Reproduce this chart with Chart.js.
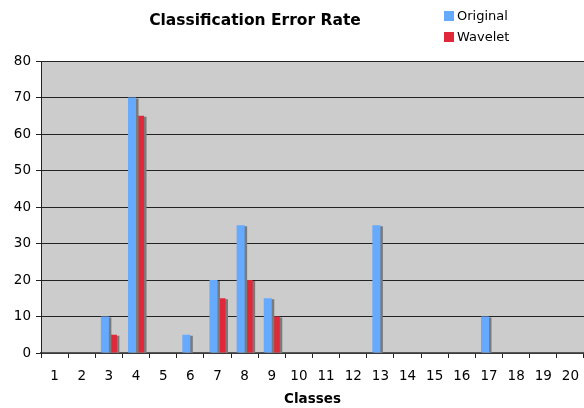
<!DOCTYPE html>
<html>
<head>
<meta charset="utf-8">
<script src="https://cdn.jsdelivr.net/npm/chart.js@4"></script>
<style>
  html, body { margin: 0; padding: 0; background: #ffffff; }
  #wrap { width: 584px; height: 408px; }
</style>
</head>
<body>
<div id="wrap"><canvas id="errChart" width="584" height="408"></canvas></div>
<script>
const classes = ["1", "2", "3", "4", "5", "6", "7", "8", "9", "10",
                 "11", "12", "13", "14", "15", "16", "17", "18", "19", "20"];
const originalRate = [0, 0, 10, 70, 0, 5, 20, 35, 15, 0, 0, 0, 35, 0, 0, 0, 10, 0, 0, 0];
const waveletRate = [0, 0, 5, 65, 0, 0, 15, 20, 10, 0, 0, 0, 0, 0, 0, 0, 0, 0, 0, 0];
const yTicks = [0, 10, 20, 30, 40, 50, 60, 70, 80];

const FONT = "'DejaVu Sans', Verdana, sans-serif";

// grey plot background + bar drop shadow
const plotDecor = {
  id: "plotDecor",
  beforeDraw(chart) {
    const { ctx, chartArea: a } = chart;
    ctx.save();
    ctx.fillStyle = "#cccccc";
    ctx.fillRect(a.left, a.top, a.right - a.left, a.bottom - a.top);
    ctx.restore();
  },
  beforeDatasetsDraw(chart) {
    const ctx = chart.ctx;
    ctx.save();
    ctx.shadowColor = "#7a7a7a";
    ctx.shadowOffsetX = 2.5;
    ctx.shadowOffsetY = 1;
    ctx.shadowBlur = 0;
  },
  afterDatasetsDraw(chart) {
    chart.ctx.restore();
  }
};

// title and legend placed like the original sheet chart
const headerBox = {
  id: "headerBox",
  afterDraw(chart) {
    const ctx = chart.ctx;
    ctx.save();
    ctx.fillStyle = "#000000";
    ctx.font = "bold 15.5px " + FONT;
    ctx.textAlign = "center";
    ctx.textBaseline = "middle";
    ctx.fillText("Classification Error Rate", 255, 21);

    ctx.font = "13px " + FONT;
    ctx.textAlign = "left";
    chart.data.datasets.forEach((ds, i) => {
      const y = 16 + i * 21;
      ctx.fillStyle = ds.backgroundColor;
      ctx.fillRect(444, y - 5, 10, 10);
      ctx.fillStyle = "#000000";
      ctx.fillText(ds.label, 457, y + 0.5);
    });
    ctx.restore();
  }
};

new Chart(document.getElementById("errChart"), {
  type: "bar",
  data: {
    labels: classes,
    datasets: [
      { label: "Original", data: originalRate, backgroundColor: "#66aaff" },
      { label: "Wavelet", data: waveletRate, backgroundColor: "#e0283a" }
    ]
  },
  options: {
    responsive: false,
    animation: false,
    layout: { padding: { top: 61, right: 0, left: 0, bottom: 0 } },
    datasets: {
      bar: { categoryPercentage: 0.59, barPercentage: 1, borderWidth: 0 }
    },
    plugins: {
      legend: { display: false },
      title: { display: false },
      tooltip: { enabled: false }
    },
    scales: {
      x: {
        afterFit(axis) {
          axis.height = 55;
          axis.paddingLeft = 0;
          axis.paddingRight = 0;
        },
        grid: {
          offset: true,
          drawOnChartArea: false,
          drawTicks: true,
          tickLength: 5,
          tickColor: "#222222"
        },
        border: { display: true, color: "#555555", width: 1.5 },
        ticks: { color: "#000000", font: { family: FONT, size: 13.5 }, padding: 10 },
        title: {
          display: true,
          text: "Classes",
          color: "#000000",
          font: { family: FONT, size: 13.5, weight: "bold" },
          padding: { top: 2, bottom: 0 }
        }
      },
      y: {
        min: 0,
        max: 80,
        afterFit(axis) { axis.width = 41; },
        afterBuildTicks(axis) { axis.ticks = yTicks.map(v => ({ value: v })); },
        grid: {
          color: "#222222",
          lineWidth: 1,
          drawTicks: true,
          tickLength: 5,
          tickColor: "#222222"
        },
        border: { display: true, color: "#222222", width: 1 },
        ticks: { color: "#000000", font: { family: FONT, size: 13.5 }, padding: 5 }
      }
    }
  },
  plugins: [plotDecor, headerBox]
});
</script>
</body>
</html>
